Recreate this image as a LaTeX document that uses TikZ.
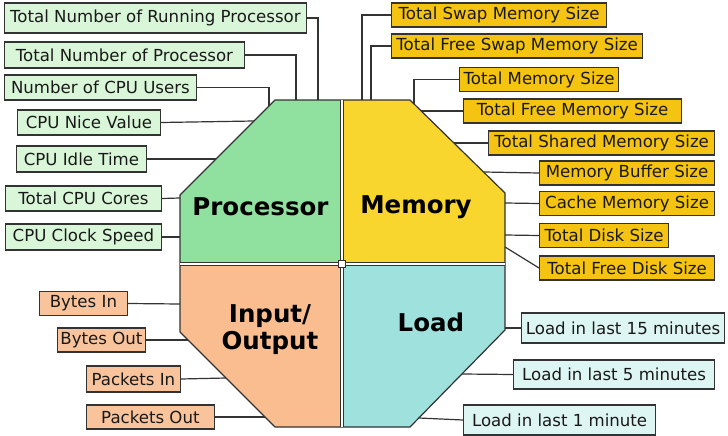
\documentclass[tikz,border=0pt]{standalone}
\usepackage{fontspec}
\setmainfont{DejaVu Sans}
\definecolor{procfill}{HTML}{90E0A0}
\definecolor{memfill}{HTML}{F9D62E}
\definecolor{iofill}{HTML}{F9BD8F}
\definecolor{loadfill}{HTML}{9EE1DD}
\definecolor{gbox}{HTML}{D9F6D9}
\definecolor{ybox}{HTML}{F5C412}
\definecolor{obox}{HTML}{F9C49C}
\definecolor{tbox}{HTML}{DDF5F3}
\definecolor{ink}{HTML}{333333}
\begin{document}
\begin{tikzpicture}[x=1pt,y=-1pt,
  lbl/.style={draw=ink, line width=1.2pt, inner xsep=3pt, inner ysep=0pt, font=\fontsize{16.6}{18}\selectfont, text=black!90},
  gb/.style={lbl, fill=gbox, minimum height=26pt},
  yb/.style={lbl, fill=ybox, minimum height=24pt},
  ob/.style={lbl, fill=obox, minimum height=24pt},
  tb/.style={lbl, fill=tbox, minimum height=29pt},
  conn/.style={draw=ink, line width=1.2pt},
  big/.style={font=\fontsize{24.5}{28}\selectfont\bfseries, align=center, text=black}
]
\useasboundingbox (0,0) rectangle (728,436);
% octagon quadrants
\begin{scope}
\clip (275,100)--(410,100)--(505,193)--(505,330)--(410,427)--(275,427)--(180,332)--(180,195)--cycle;
\fill[procfill] (170,90) rectangle (342,264);
\fill[memfill] (342,90) rectangle (515,264);
\fill[iofill] (170,264) rectangle (342,437);
\fill[loadfill] (342,264) rectangle (515,437);
\end{scope}
\draw[ink, line width=1.2pt, line join=round] (275,100)--(410,100)--(505,193)--(505,330)--(410,427)--(275,427)--(180,332)--(180,195)--cycle;
\draw[draw=ink, double=white, double distance=1.8pt, line width=1pt] (342,100)--(342,427);
\draw[draw=ink, double=white, double distance=1.8pt, line width=1pt] (180,264)--(505,264);
\node[draw=ink, fill=white, line width=0.8pt, minimum size=7pt, inner sep=0pt] (hub) at (342,264) {};

\node[big] (proc) at (260.5,207) {Processor};
\node[big] (mem) at (416,207) {Memory};
\node[big, font=\fontsize{24.5}{27}\selectfont\bfseries] (io) at (270,330) {Input/\\Output};
\node[big] (load) at (431,322) {Load};

% attachment points
\coordinate (p1) at (318,100);
\coordinate (p2) at (296,100);
\coordinate (p3) at (269,106);
\coordinate (p4) at (254,121);
\coordinate (p5) at (216,159);
\coordinate (p6) at (180,198);
\coordinate (p7) at (180,237);
\coordinate (m1) at (362,100);
\coordinate (m2) at (371,100);
\coordinate (m3) at (414,104);
\coordinate (m4) at (421,111);
\coordinate (m5) at (454,143);
\coordinate (m6) at (484,172);
\coordinate (m7) at (505,203);
\coordinate (m8) at (505,235);
\coordinate (m9) at (505,247);
\coordinate (i1) at (180,304);
\coordinate (i2) at (188,340);
\coordinate (i3) at (226,378);
\coordinate (i4) at (265,417);
\coordinate (l1) at (505,328);
\coordinate (l2) at (462,374);
\coordinate (l3) at (419,418);

% processor boxes
\node[gb, anchor=east, minimum height=30pt, minimum width=302pt] (b1) at (307,18) {Total Number of Running Processor};
\node[gb, anchor=east, minimum width=240pt] (b2) at (245,55) {Total Number of Processor};
\node[gb, anchor=east, minimum height=25pt, minimum width=192pt] (b3) at (197,87.5) {Number of CPU Users};
\node[gb, anchor=east, minimum height=25pt, minimum width=143pt] (b4) at (161,122.5) {CPU Nice Value};
\node[gb, anchor=east, minimum width=130pt] (b5) at (147,159) {CPU Idle Time};
\node[gb, anchor=east, minimum height=25pt, minimum width=156pt] (b6) at (162,198.5) {Total CPU Cores};
\node[gb, anchor=east, minimum width=156pt] (b7) at (162,237) {CPU Clock Speed};
% memory boxes
\node[yb, anchor=west, minimum width=215pt] (c1) at (391,15) {Total Swap Memory Size};
\node[yb, anchor=west, minimum width=251pt] (c2) at (391,46) {Total Free Swap Memory Size};
\node[yb, anchor=west, minimum width=159pt] (c3) at (459,79.5) {Total Memory Size};
\node[yb, anchor=west, minimum width=218pt] (c4) at (463,111) {Total Free Memory Size};
\node[yb, anchor=west, minimum width=226pt] (c5) at (488,143) {Total Shared Memory Size};
\node[yb, anchor=west, minimum width=175pt] (c6) at (539,173) {Memory Buffer Size};
\node[yb, anchor=west, minimum width=175pt] (c7) at (539,203.5) {Cache Memory Size};
\node[yb, anchor=west, minimum width=129pt] (c8) at (539,235.5) {Total Disk Size};
\node[yb, anchor=west, minimum width=175pt] (c9) at (539,268) {Total Free Disk Size};
% io boxes
\node[ob, anchor=east, minimum width=88pt] (d1) at (128,303.5) {Bytes In};
\node[ob, anchor=east, minimum width=88pt] (d2) at (146,340) {Bytes Out};
\node[ob, anchor=east, minimum height=26pt, minimum width=94pt] (d3) at (181,379) {Packets In};
\node[ob, anchor=east, minimum width=128pt] (d4) at (215,417) {Packets Out};
% load boxes
\node[tb, anchor=west, minimum height=30pt, minimum width=203pt] (e1) at (521,328) {Load in last 15 minutes};
\node[tb, anchor=west, minimum width=201pt] (e2) at (513,374.5) {Load in last 5 minutes};
\node[tb, anchor=west, minimum height=30pt, minimum width=192pt] (e3) at (463,420) {Load in last 1 minute};

% connectors
\draw[conn] (b1.east) -| (p1);
\draw[conn] (b2.east) -| (p2);
\draw[conn] (b3.east) -| (p3);
\draw[conn] (b4.east) -- (p4);
\draw[conn] (b5.east) -- (p5);
\draw[conn] (b6.east) -- (p6);
\draw[conn] (b7.east) -- (p7);
\draw[conn] (c1.west) -| (m1);
\draw[conn] (c2.west) -| (m2);
\draw[conn] (c3.west) -| (m3);
\draw[conn] (c4.west) -- (m4);
\draw[conn] (c5.west) -- (m5);
\draw[conn] (c6.west) -- (m6);
\draw[conn] (c7.west) -- (m7);
\draw[conn] (c8.west) -- (m8);
\draw[conn] (c9.west) -- (m9);
\draw[conn] (d1.east) -- (i1);
\draw[conn] (d2.east) -- (i2);
\draw[conn] (d3.east) -- (i3);
\draw[conn] (d4.east) -- (i4);
\draw[conn] (e1.west) -- (l1);
\draw[conn] (e2.west) -- (l2);
\draw[conn] (e3.west) -- (l3);
\end{tikzpicture}
\end{document}
